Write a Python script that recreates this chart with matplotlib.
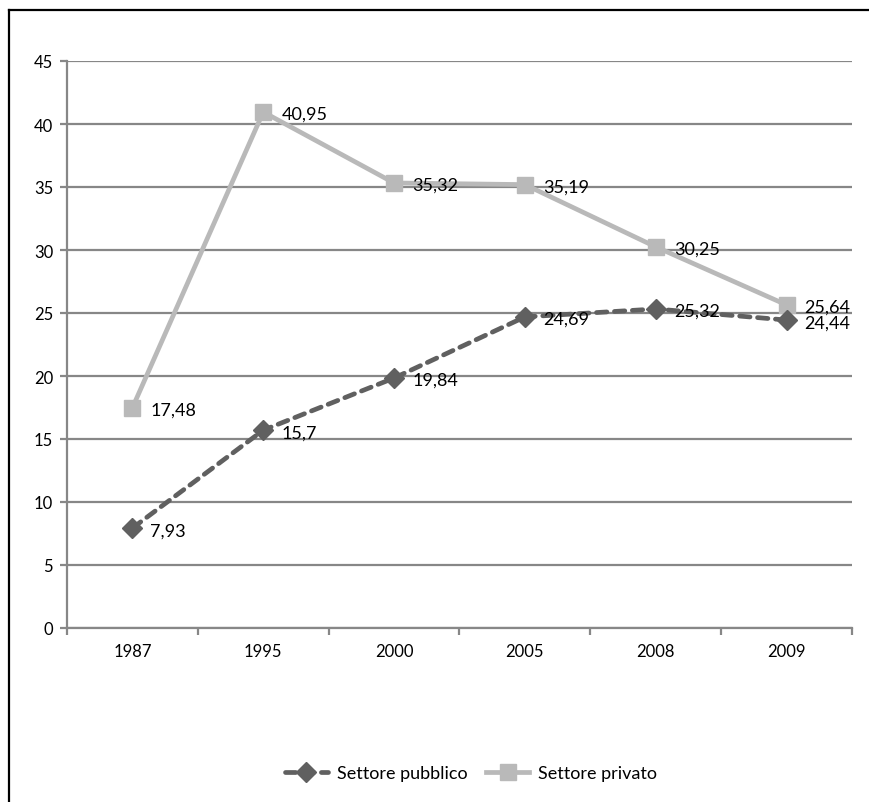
import matplotlib
matplotlib.use('Agg')
import matplotlib.pyplot as plt
from matplotlib.lines import Line2D

plt.rcParams['font.family'] = ['Lato', 'DejaVu Sans']

years = ['1987', '1995', '2000', '2005', '2008', '2009']
pubblico = [7.93, 15.7, 19.84, 24.69, 25.32, 24.44]
privato = [17.48, 40.95, 35.32, 35.19, 30.25, 25.64]
pubblico_labels = ['7,93', '15,7', '19,84', '24,69', '25,32', '24,44']
privato_labels = ['17,48', '40,95', '35,32', '35,19', '30,25', '25,64']

GRID = '#878787'
DARK = '#606060'
LIGHT = '#B9B9B9'

fig = plt.figure(figsize=(8.70, 8.03), dpi=100)
ax = fig.add_axes([67/870, 1 - 629/803, (852 - 67)/870, (629 - 62)/803])

# frame of the chart area (only left and top visible)
fig.add_artist(Line2D([9/870, 9/870], [0, 1 - 11/803], color='black', lw=1.6,
                      transform=fig.transFigure))
fig.add_artist(Line2D([9/870, 1], [1 - 11/803, 1 - 11/803], color='black', lw=1.6,
                      transform=fig.transFigure))

x = list(range(len(years)))
ax.set_xlim(-0.5, len(years) - 0.5)
ax.set_ylim(0, 45)
ax.set_yticks(range(0, 46, 5))
ax.yaxis.grid(True, color=GRID, lw=1.6)
ax.set_axisbelow(True)

for side in ['top', 'right']:
    ax.spines[side].set_visible(False)
for side in ['left', 'bottom']:
    ax.spines[side].set_color(GRID)
    ax.spines[side].set_linewidth(1.6)

ax.set_xticks(x)
ax.set_xticklabels(years)
ax.set_xticks([i - 0.5 for i in range(len(years) + 1)], minor=True)
ax.tick_params(axis='x', which='major', length=0, pad=11, labelsize=12)
ax.tick_params(axis='x', which='minor', length=5, width=1.6, color=GRID)
ax.tick_params(axis='y', length=5, width=1.6, color=GRID, pad=5, labelsize=12)

l1, = ax.plot(x, pubblico, color=DARK, lw=3.4, marker='D', markersize=10,
              dash_capstyle='round', label='Settore pubblico', zorder=3)
l1.set_dashes([2.2, 1.6])
l2, = ax.plot(x, privato, color=LIGHT, lw=3.4, marker='s', markersize=11,
              label='Settore privato', zorder=2)

for xi, v, t in zip(x, pubblico, pubblico_labels):
    ax.annotate(t, (xi, v), xytext=(13, -1.5), textcoords='offset points',
                va='center', ha='left', fontsize=13, zorder=4)
for xi, v, t in zip(x, privato, privato_labels):
    ax.annotate(t, (xi, v), xytext=(13, -1.5), textcoords='offset points',
                va='center', ha='left', fontsize=13, zorder=4)

fig.legend(handles=[l1, l2], loc='center', bbox_to_anchor=(471/870, 1 - 774/803),
           ncol=2, frameon=False, fontsize=13, handlelength=2.4,
           handletextpad=0.5, columnspacing=1.0)

fig.savefig('out.png', dpi=100)
